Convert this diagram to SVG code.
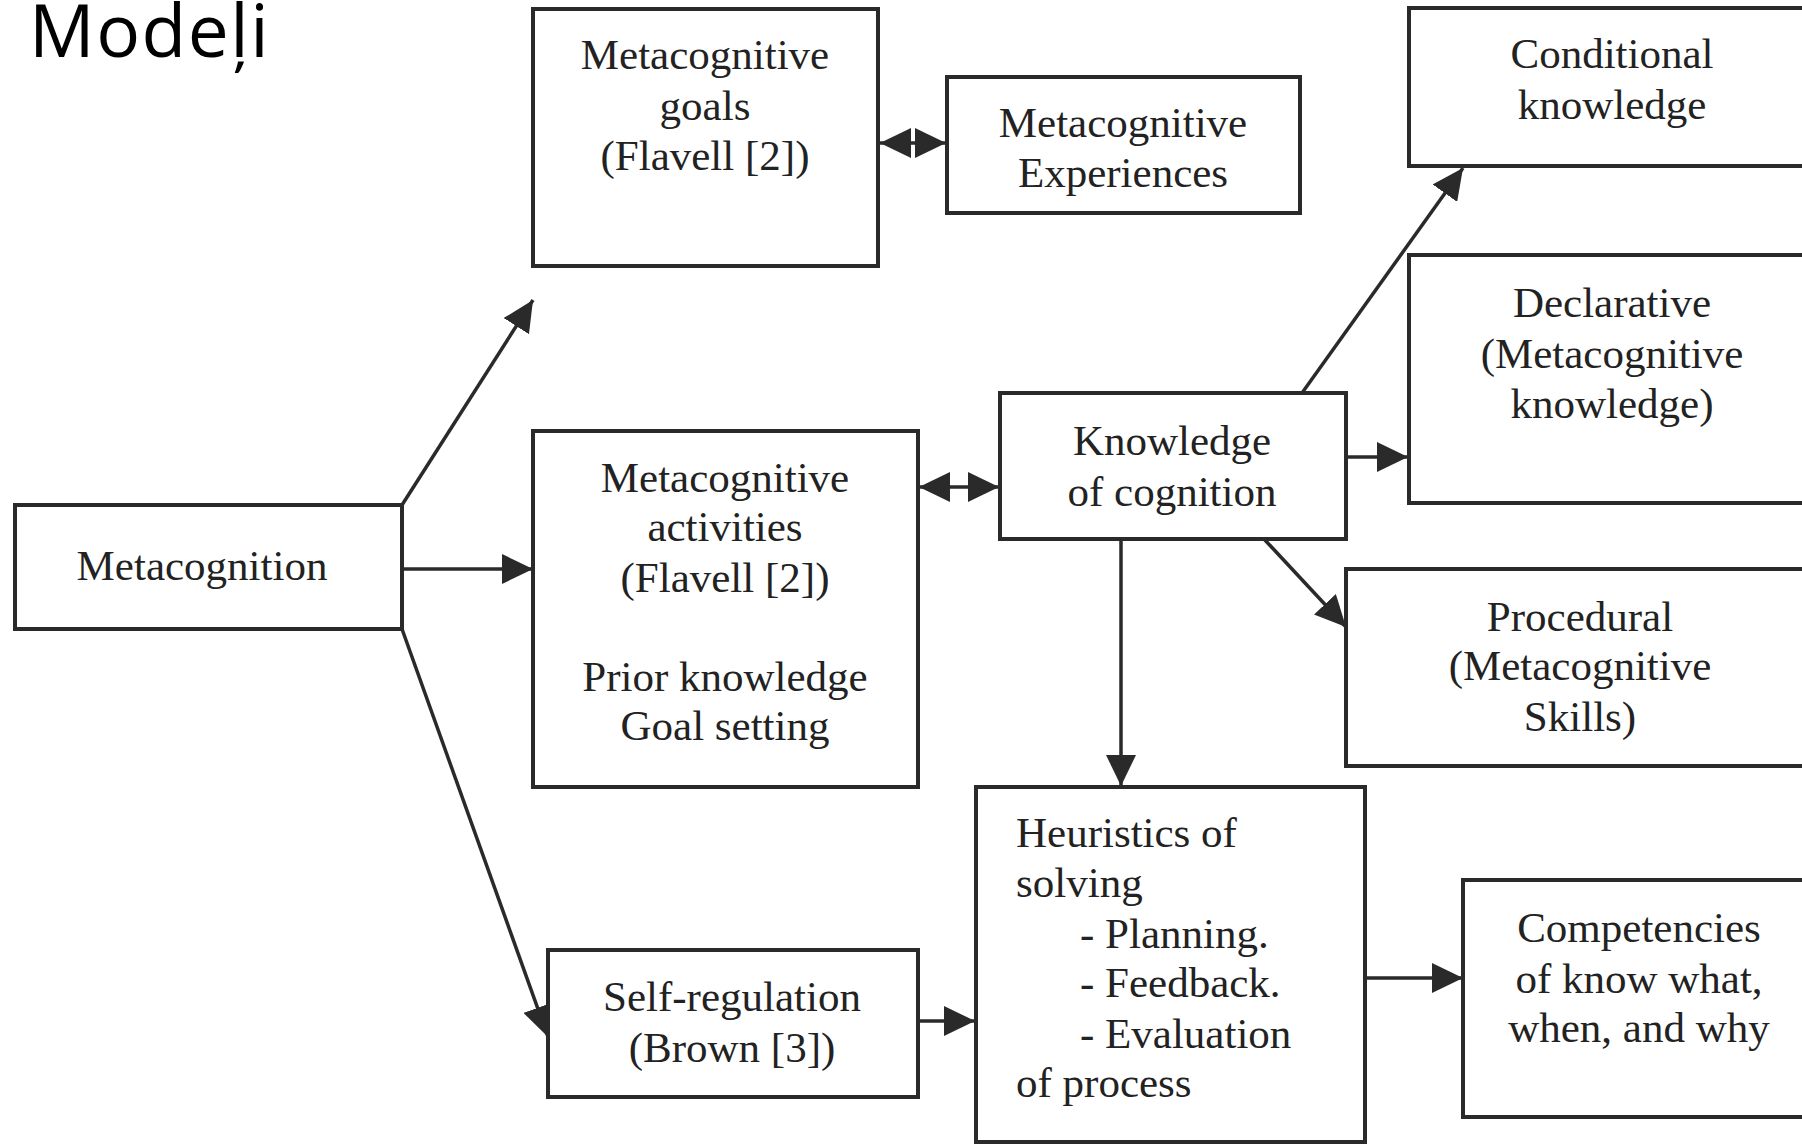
<svg xmlns="http://www.w3.org/2000/svg" width="1802" height="1144" viewBox="0 0 1802 1144">
<style>
.box{fill:#fff;stroke:#2a2a2a;stroke-width:4}
.t{font-family:"Liberation Serif","Times New Roman",serif;font-size:43px;fill:#222;text-anchor:middle}
.tl{font-family:"Liberation Serif","Times New Roman",serif;font-size:43px;fill:#222}
.c{stroke:#2a2a2a;stroke-width:3.5;fill:none}
.title{font-family:"Open Sans",sans-serif;font-size:73px;fill:#000}
</style>
<defs>
<marker id="ah" markerUnits="userSpaceOnUse" markerWidth="32" markerHeight="30" refX="31" refY="15" orient="auto-start-reverse" viewBox="0 0 32 30">
<path d="M0,0 L31,15 L0,30 z" fill="#2a2a2a"/>
</marker>
</defs>
<rect width="1802" height="1144" fill="#fff"/>
<text class="title" x="29" y="57" letter-spacing="1.5">Modeļi</text>

<g id="connectors">
<line class="c" x1="402" y1="505" x2="533" y2="300" marker-end="url(#ah)"/>
<line class="c" x1="402" y1="569" x2="533" y2="569" marker-end="url(#ah)"/>
<line class="c" x1="402" y1="629" x2="548" y2="1037" marker-end="url(#ah)"/>
<line class="c" x1="880" y1="143" x2="946" y2="143" marker-start="url(#ah)" marker-end="url(#ah)"/>
<line class="c" x1="919" y1="487" x2="999" y2="487" marker-start="url(#ah)" marker-end="url(#ah)"/>
<line class="c" x1="1302" y1="393" x2="1463" y2="168" marker-end="url(#ah)"/>
<line class="c" x1="1348" y1="457" x2="1408" y2="457" marker-end="url(#ah)"/>
<line class="c" x1="1264" y1="539" x2="1346" y2="627" marker-end="url(#ah)"/>
<line class="c" x1="1121" y1="539" x2="1121" y2="786" marker-end="url(#ah)"/>
<line class="c" x1="918" y1="1021" x2="975" y2="1021" marker-end="url(#ah)"/>
<line class="c" x1="1361" y1="978" x2="1463" y2="978" marker-end="url(#ah)"/>
</g>

<g id="metacognition">
<rect class="box" x="15" y="505" width="387" height="124"/>
<text class="t" x="202" y="580">Metacognition</text>
</g>

<g id="goals">
<rect class="box" x="533" y="9" width="345" height="257"/>
<text class="t" x="705" y="69">Metacognitive</text>
<text class="t" x="705" y="120">goals</text>
<text class="t" x="705" y="170">(Flavell [2])</text>
</g>

<g id="experiences">
<rect class="box" x="947" y="77" width="353" height="136"/>
<text class="t" x="1123" y="137">Metacognitive</text>
<text class="t" x="1123" y="187">Experiences</text>
</g>

<g id="activities">
<rect class="box" x="533" y="431" width="385" height="356"/>
<text class="t" x="725" y="492">Metacognitive</text>
<text class="t" x="725" y="541">activities</text>
<text class="t" x="725" y="592">(Flavell [2])</text>
<text class="t" x="725" y="691">Prior knowledge</text>
<text class="t" x="725" y="740">Goal setting</text>
</g>

<g id="knowledge">
<rect class="box" x="1000" y="393" width="346" height="146"/>
<text class="t" x="1172" y="455">Knowledge</text>
<text class="t" x="1172" y="506">of cognition</text>
</g>

<g id="conditional">
<rect class="box" x="1409" y="8" width="410" height="158"/>
<text class="t" x="1612" y="68">Conditional</text>
<text class="t" x="1612" y="119">knowledge</text>
</g>

<g id="declarative">
<rect class="box" x="1409" y="255" width="410" height="248"/>
<text class="t" x="1612" y="317">Declarative</text>
<text class="t" x="1612" y="368">(Metacognitive</text>
<text class="t" x="1612" y="418">knowledge)</text>
</g>

<g id="procedural">
<rect class="box" x="1346" y="569" width="470" height="197"/>
<text class="t" x="1580" y="631">Procedural</text>
<text class="t" x="1580" y="680">(Metacognitive</text>
<text class="t" x="1580" y="731">Skills)</text>
</g>

<g id="heuristics">
<rect class="box" x="976" y="787" width="389" height="355"/>
<text class="tl" x="1016" y="847">Heuristics of</text>
<text class="tl" x="1016" y="897">solving</text>
<text class="tl" x="1080" y="948">- Planning.</text>
<text class="tl" x="1080" y="997">- Feedback.</text>
<text class="tl" x="1080" y="1048">- Evaluation</text>
<text class="tl" x="1016" y="1097">of process</text>
</g>

<g id="selfregulation">
<rect class="box" x="548" y="950" width="370" height="147"/>
<text class="t" x="732" y="1011">Self-regulation</text>
<text class="t" x="732" y="1062">(Brown [3])</text>
</g>

<g id="competencies">
<rect class="box" x="1463" y="880" width="360" height="237"/>
<text class="t" x="1639" y="942">Competencies</text>
<text class="t" x="1639" y="993">of know what,</text>
<text class="t" x="1639" y="1042">when, and why</text>
</g>
</svg>
